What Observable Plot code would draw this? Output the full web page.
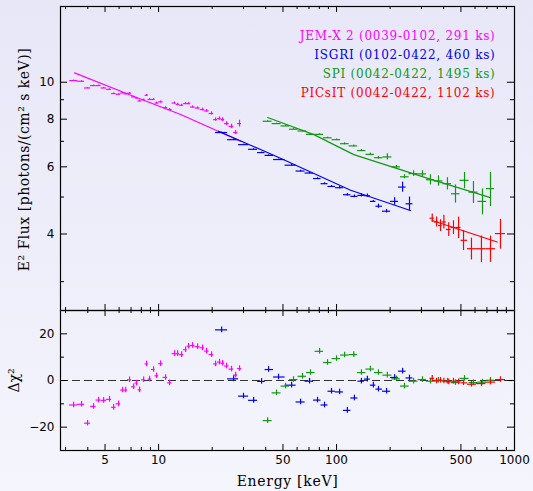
<!DOCTYPE html>
<html>
<head>
<meta charset="utf-8">
<script src="https://cdn.jsdelivr.net/npm/d3@7"></script>
<script src="https://cdn.jsdelivr.net/npm/@observablehq/plot@0.6"></script>
<style>
  html, body { margin: 0; padding: 0; }
  body {
    width: 533px; height: 491px; overflow: hidden;
    background: linear-gradient(to bottom, #e7e7f8, #f5f5fd);
  }
  #chart svg { display: block; background: transparent; overflow: visible; }
</style>
</head>
<body>
<div id="chart"></div>
<script>
// ---- JEM-X 2 spectrum (keV, keV^2 photons cm^-2 s^-1 keV^-1) ----
const jemxEnergy = [3.33, 3.69, 3.99, 4.31, 4.60, 4.91, 5.30, 5.59, 5.96, 6.28, 6.53, 6.87, 7.24, 7.52, 7.82, 8.24, 8.56, 8.90, 9.37, 9.74,
  10.26, 10.95, 11.53, 12.30, 12.79, 13.47, 14.18, 14.74, 15.52, 16.56, 17.67, 18.61, 19.85, 20.9, 22.0, 22.9, 24.1, 25.7, 27.1, 28.5];
const jemxFlux = [10.10, 10.06, 9.66, 9.80, 9.80, 9.66, 9.58, 9.34, 9.30, 9.37, 9.32, 9.36, 9.15, 9.09, 8.93, 9.00, 9.24, 9.01, 9.01, 8.82,
  8.88, 8.58, 8.48, 8.82, 8.75, 8.70, 8.79, 8.79, 8.61, 8.56, 8.48, 8.41, 8.28, 7.98, 8.03, 7.98, 7.79, 7.66, 7.38, 7.79];
const jemxErr = [0.03, 0.03, 0.03, 0.03, 0.03, 0.03, 0.03, 0.03, 0.03, 0.03, 0.04, 0.04, 0.04, 0.04, 0.04, 0.04, 0.05, 0.05, 0.05, 0.05,
  0.05, 0.05, 0.05, 0.06, 0.06, 0.06, 0.06, 0.06, 0.06, 0.06, 0.07, 0.07, 0.08, 0.08, 0.08, 0.09, 0.09, 0.10, 0.09, 0.16];
const jemxResid = [-10.5, -10.2, -18.3, -11.1, -8.4, -8.5, -8.1, -11.5, -10.0, -4.1, -4.1, 0.3, -2.7, -1.1, -4.0, 0.3, 7.1, 0.6, 4.7, 2.0,
  7.2, 1.3, -1.0, 11.5, 11.5, 11.1, 13.2, 14.7, 15.0, 14.5, 14.0, 12.6, 11.1, 7.1, 7.9, 7.4, 6.2, 4.9, 2.3, 5.1];
const jemxModel = [[3.37, 10.58], [6.87, 9.27], [13.3, 8.23], [28.9, 7.00]];

// ---- ISGRI ----
const isgriEnergy = [22.6, 26.4, 30.0, 34.2, 37.9, 41.5, 47.2, 55.9, 62.8, 70.5, 78.2, 85.6, 93.7, 104, 115, 126, 138, 149, 161, 172, 191, 212, 235, 257];
const isgriFlux = [7.38, 7.07, 6.86, 6.67, 6.54, 6.43, 6.27, 6.06, 5.85, 5.78, 5.59, 5.42, 5.33, 5.29, 5.07, 5.02, 5.05, 5.04, 4.87, 4.73, 4.59, 4.87, 5.31, 4.80];
const isgriErr = [0.02, 0.02, 0.02, 0.02, 0.02, 0.02, 0.02, 0.03, 0.03, 0.03, 0.03, 0.03, 0.03, 0.04, 0.04, 0.04, 0.05, 0.05, 0.03, 0.06, 0.05, 0.11, 0.16, 0.20];
const isgriResid = [21.7, 0.7, -6.7, -8.5, -0.4, 4.7, 1.5, -2.0, -9.2, -0.3, -8.4, -10.5, -4.6, -4.9, -12.8, -7.5, -0.3, 0.6, -2.0, -3.7, -4.6, 1.3, 4.0, 1.1];
const isgriModel = [[21.7, 7.44], [48.4, 6.32], [120, 5.21], [260, 4.61]];

// ---- SPI ----
const spiEnergy = [41.0, 46.0, 51.7, 57.3, 64.4, 71.4, 80.3, 89.0, 100, 111, 125, 138, 155, 172, 193, 217, 241, 271, 304, 337, 374, 420, 466, 524, 588, 661, 733];
const spiFlux = [7.90, 7.79, 7.68, 7.53, 7.45, 7.30, 7.30, 7.15, 7.07, 6.90, 6.81, 6.62, 6.47, 6.34, 6.37, 6.00, 5.65, 5.76, 5.75, 5.55, 5.51, 5.42, 5.10, 5.53, 5.15, 4.87, 5.26];
const spiErr = [0.02, 0.02, 0.02, 0.02, 0.03, 0.03, 0.03, 0.03, 0.03, 0.04, 0.04, 0.04, 0.05, 0.05, 0.12, 0.05, 0.07, 0.10, 0.11, 0.17, 0.17, 0.20, 0.28, 0.27, 0.34, 0.38, 0.54];
const spiResid = [-17.2, -5.3, -2.4, 0.4, 1.8, 3.4, 12.5, 7.7, 9.4, 10.9, 11.1, 3.4, 4.9, 3.4, 2.3, 0.7, -2.4, -0.3, 0.4, -0.3, 0.1, -0.3, -0.9, 0.9, -0.9, -0.7, 0.1];
const spiModel = [[41.0, 8.08], [74.6, 7.29], [125, 6.46], [329, 5.59], [733, 4.98]];

// ---- PICsIT ----
const picsitEnergy = [345, 365, 384, 401, 427, 454, 485, 517, 573, 652, 733, 834];
const picsitFlux = [4.40, 4.30, 4.21, 4.30, 4.11, 4.16, 4.16, 3.85, 3.66, 3.66, 3.66, 4.01];
const picsitErr = [0.11, 0.13, 0.15, 0.18, 0.17, 0.17, 0.27, 0.23, 0.24, 0.29, 0.29, 0.36];
const picsitResid = [0.9, -0.2, 0.1, -0.2, -0.6, -0.3, -0.6, -1.0, -1.6, -1.3, -0.7, 0.4];
const picsitModel = [[345, 4.34], [799, 3.81]];

// ---- labels and ticks ----
const legendLabels = ["JEM-X 2 (0039-0102, 291 ks)", "ISGRI (0102-0422, 460 ks)", "SPI (0042-0422, 1495 ks)", "PICsIT (0042-0422, 1102 ks)"];
const seriesColors = ["#ff00ff", "#0000f0", "#119911", "#ff0000"];
const fluxTitle = "E² Flux [photons/(cm² s keV)]";
const energyTitle = "Energy [keV]";
const residTitle = "\u0394\u03c7\u00b2";
const xMajorTicks = [5, 10, 50, 100, 500, 1000];
const xMinorTicks = [3, 4, 6, 7, 8, 9, 20, 30, 40, 60, 70, 80, 90, 200, 300, 400, 600, 700, 800, 900];
const fluxMajorTicks = [4, 6, 8, 10];
const fluxMinorTicks = [3, 5, 7, 9];
const residMajorTicks = [-20, 0, 20];
const residMinorTicks = [-10, 10];

// contiguous energy bins: edges halfway (in log) between neighbouring channels
function binEdges(E) {
  const mids = E.slice(1).map((e, i) => Math.sqrt(e * E[i]));
  const lo = [E[0] * E[0] / mids[0], ...mids];
  const hi = [...mids, E[E.length - 1] * E[E.length - 1] / mids[mids.length - 1]];
  return {lo, hi};
}
function rows(E, F, err, resid) {
  const {lo, hi} = binEdges(E);
  return E.map((e, i) => ({e, lo: lo[i], hi: hi[i], f: F[i], err: err[i], r: resid[i]}));
}
const series = [
  {rows: rows(jemxEnergy, jemxFlux, jemxErr, jemxResid), model: jemxModel},
  {rows: rows(isgriEnergy, isgriFlux, isgriErr, isgriResid), model: isgriModel},
  {rows: rows(spiEnergy, spiFlux, spiErr, spiResid), model: spiModel},
  {rows: rows(picsitEnergy, picsitFlux, picsitErr, picsitResid), model: picsitModel}
].map((s, i) => ({...s, color: seriesColors[i], label: legendLabels[i]}));

const W = 533, ML = 60, MR = 19;
const PW = W - ML - MR;
const xScale = {type: "log", domain: [2.81, 1000], axis: null};
const tickFont = "DejaVu Sans";
const textFont = "DejaVu Serif";
const majorLen = 6, minorLen = 3;

// inward tick marks on a horizontal edge of the frame
function xEdgeTicks(values, len, plotH, edge) {
  const inset = edge === "top" ? {insetBottom: plotH - len} : {insetTop: plotH - len};
  return Plot.tickX(values, {x: d => d, stroke: "black", strokeWidth: 1, ...inset});
}
function yEdgeTicks(values, len, edge) {
  const inset = edge === "left" ? {insetRight: PW - len} : {insetLeft: PW - len};
  return Plot.tickY(values, {y: d => d, stroke: "black", strokeWidth: 1, ...inset});
}

// ---------- upper panel: unfolded spectrum ----------
const upperH = 310, upperMT = 6, upperPH = upperH - upperMT;
const upperMarks = [];
for (const s of series) {
  upperMarks.push(Plot.ruleY(s.rows, {y: "f", x1: "lo", x2: "hi", stroke: s.color, strokeWidth: 1.2}));
  upperMarks.push(Plot.ruleX(s.rows, {x: "e", y1: d => d.f - d.err, y2: d => d.f + d.err, stroke: s.color, strokeWidth: 1.2}));
  upperMarks.push(Plot.line(s.model, {x: d => d[0], y: d => d[1], stroke: s.color, strokeWidth: 1.2}));
}
series.forEach((s, i) => {
  upperMarks.push(Plot.text([s.label], {
    frameAnchor: "top-right", dx: -19, dy: 29.7 + i * 18.9, text: d => d,
    textAnchor: "end", lineAnchor: "middle", fill: s.color,
    fontFamily: textFont, fontSize: 12
  }));
});
const upperPlot = Plot.plot({
  width: W, height: upperH, marginLeft: ML, marginRight: MR, marginTop: upperMT, marginBottom: 0,
  x: xScale,
  y: {type: "log", domain: [2.52, 15.8], axis: null},
  style: {background: "transparent", overflow: "visible"},
  marks: [
    ...upperMarks,
    xEdgeTicks(xMajorTicks, majorLen, upperPH, "top"),
    xEdgeTicks(xMinorTicks, minorLen, upperPH, "top"),
    xEdgeTicks(xMajorTicks, majorLen, upperPH, "bottom"),
    xEdgeTicks(xMinorTicks, minorLen, upperPH, "bottom"),
    yEdgeTicks(fluxMajorTicks, majorLen + 1, "left"),
    yEdgeTicks(fluxMinorTicks, minorLen + 1, "left"),
    yEdgeTicks(fluxMajorTicks, majorLen + 1, "right"),
    yEdgeTicks(fluxMinorTicks, minorLen + 1, "right"),
    Plot.text(fluxMajorTicks, {y: d => d, frameAnchor: "left", dx: -6, textAnchor: "end", text: d => String(d),
      fontFamily: tickFont, fontSize: 12, fill: "black"}),
    Plot.text([fluxTitle], {frameAnchor: "left", dx: -36, dy: 1, rotate: -90, text: d => d,
      textAnchor: "middle", lineAnchor: "middle",
      fontFamily: textFont, fontSize: 14, fill: "black"}),
    Plot.frame({stroke: "black", strokeWidth: 1.2})
  ]
});

// ---------- lower panel: residuals ----------
const lowerH = 181, lowerMB = 41, lowerPH = lowerH - lowerMB;
const lowerMarks = [Plot.ruleY([0], {stroke: "#333", strokeWidth: 1.2, strokeDasharray: "8,4"})];
for (const s of series) {
  lowerMarks.push(Plot.ruleY(s.rows, {y: "r", x1: "lo", x2: "hi", stroke: s.color, strokeWidth: 1.2}));
  lowerMarks.push(Plot.ruleX(s.rows, {x: "e", y1: d => d.r - 1.2, y2: d => d.r + 1.2, stroke: s.color, strokeWidth: 1.2}));
}
const fmtSigned = d => d < 0 ? "\u2212" + Math.abs(d) : String(d);
const lowerPlot = Plot.plot({
  width: W, height: lowerH, marginLeft: ML, marginRight: MR, marginTop: 0, marginBottom: lowerMB,
  x: xScale,
  y: {domain: [-30, 30], axis: null},
  style: {background: "transparent", overflow: "visible"},
  marks: [
    ...lowerMarks,
    xEdgeTicks(xMajorTicks, majorLen, lowerPH, "top"),
    xEdgeTicks(xMinorTicks, minorLen, lowerPH, "top"),
    xEdgeTicks(xMajorTicks, majorLen, lowerPH, "bottom"),
    xEdgeTicks(xMinorTicks, minorLen, lowerPH, "bottom"),
    yEdgeTicks(residMajorTicks, majorLen + 1, "left"),
    yEdgeTicks(residMinorTicks, minorLen + 1, "left"),
    yEdgeTicks(residMajorTicks, majorLen + 1, "right"),
    yEdgeTicks(residMinorTicks, minorLen + 1, "right"),
    Plot.text(residMajorTicks, {y: d => d, frameAnchor: "left", dx: -6, textAnchor: "end", text: fmtSigned,
      fontFamily: tickFont, fontSize: 12, fill: "black"}),
    Plot.text(xMajorTicks, {x: d => d, frameAnchor: "bottom", dy: 13, text: d => String(d),
      fontFamily: tickFont, fontSize: 12, fill: "black"}),
    Plot.text([energyTitle], {frameAnchor: "bottom", dy: 31, text: d => d,
      textAnchor: "middle", lineAnchor: "middle",
      fontFamily: textFont, fontSize: 14, fill: "black"}),
    Plot.text([residTitle], {frameAnchor: "left", dx: -46, rotate: -90, text: d => d,
      textAnchor: "middle", lineAnchor: "middle",
      fontFamily: textFont, fontSize: 14, fill: "black"}),
    Plot.frame({stroke: "black", strokeWidth: 1.2})
  ]
});

document.getElementById("chart").append(upperPlot, lowerPlot);

// Plot has no letter-spacing option for text, so widen the titles and legend afterwards
const spacing = new Map([[fluxTitle, "0.5px"], [energyTitle, "0.7px"], ...legendLabels.map(l => [l, "0.75px"])]);
for (const t of document.querySelectorAll("#chart text")) {
  const ls = spacing.get(t.textContent);
  if (ls) t.style.letterSpacing = ls;
}
</script>
</body>
</html>
